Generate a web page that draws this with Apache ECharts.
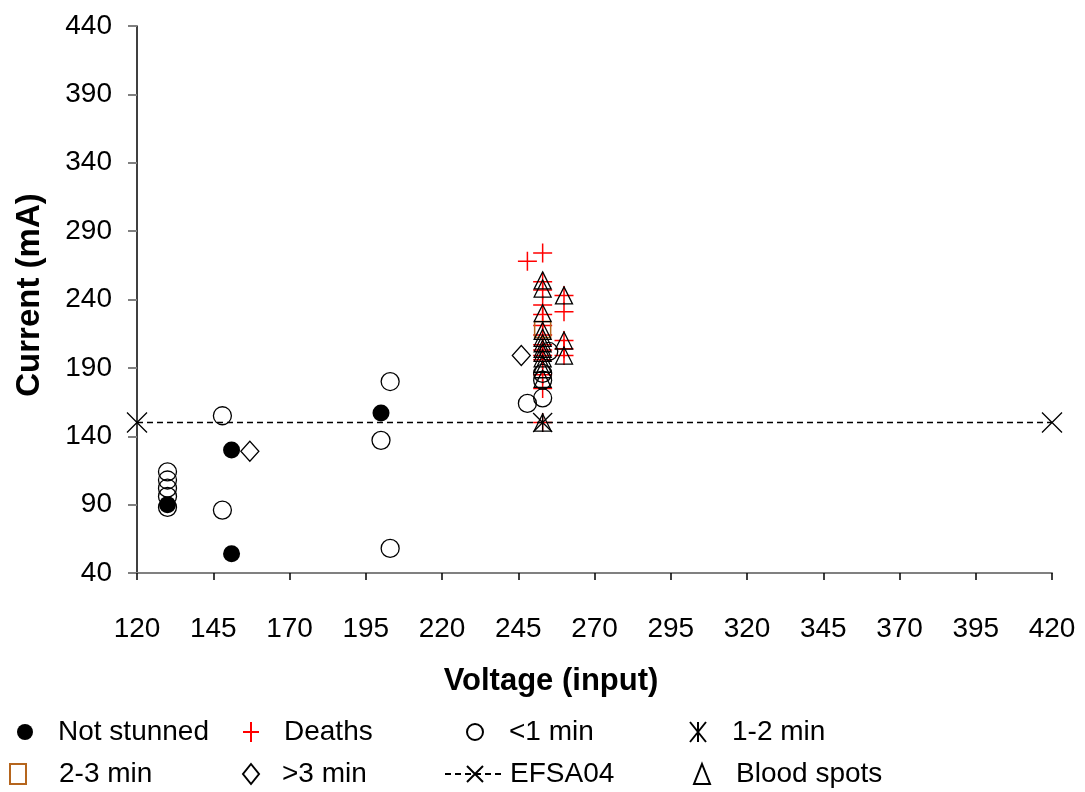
<!DOCTYPE html>
<html>
<head>
<meta charset="utf-8">
<script src="https://cdn.jsdelivr.net/npm/echarts@6/dist/echarts.min.js"></script>
<style>
  html, body { margin: 0; padding: 0; background: #fff; }
  #chart { width: 1085px; height: 792px; }
</style>
</head>
<body>
<div id="chart"></div>
<script>
// values: [voltage, current]
var notStunned = [[130, 90], [151, 130], [151, 54], [200, 157]];
var deaths = [
    [248, 268],
    [253, 274], [253, 253], [253, 247], [253, 236], [253, 229], [253, 221], [253, 214],
    [253, 207], [253, 203], [253, 199], [253, 196], [253, 185], [253, 175], [253, 150],
    [260, 243], [260, 231], [260, 210], [260, 204], [260, 199]
];
var underOne = [
    [130, 114], [130, 108], [130, 102], [130, 96], [130, 88],
    [148, 155], [148, 86], [200, 137], [203, 180], [203, 58],
    [248, 164], [253, 168], [253, 181], [253, 186], [255, 202]
];
var oneToTwo = [[253, 150]];
var twoToThree = [[253, 218]];
var overThree = [[157, 129], [246, 199]];
var efsa04 = [[120, 150], [420, 150]];
var bloodSpots = [
    [253, 254], [253, 248], [253, 230], [253, 217], [253, 212], [253, 208], [253, 204],
    [253, 201], [253, 197], [253, 193], [253, 189], [253, 182], [253, 150],
    [260, 243], [260, 210], [260, 199]
];
var xTicks = {min: 120, max: 420, step: 25};
var yTicks = {min: 40, max: 440, step: 50};

var FONT = "'Liberation Sans', Arial, sans-serif";
var PLUS = 'path://M5,0 L5,10 M0,5 L10,5';
var STAR = 'path://M0,0 L10,10 M10,0 L0,10 M5,0 L5,10';
var CROSS = 'path://M0,0 L10,10 M10,0 L0,10';
var hollow = 'rgba(0,0,0,0)';

function legendAt(name, left, top, pad, w) {
    return {
        data: [name],
        left: left,
        top: top,
        padding: 0,
        itemWidth: w || 16,
        itemHeight: 20,
        symbolKeepAspect: false,
        selectedMode: false,
        textStyle: {fontFamily: FONT, fontSize: 28, color: '#000', padding: [0, 0, 0, pad]}
    };
}

var chart = echarts.init(document.getElementById('chart'));
chart.setOption({
    animation: false,
    grid: {left: 137, right: 33, top: 26, bottom: 219},
    xAxis: {
        type: 'value',
        min: xTicks.min, max: xTicks.max, interval: xTicks.step,
        axisLine: {onZero: false, lineStyle: {color: '#808080', width: 2}},
        axisTick: {length: 7, lineStyle: {color: '#000', width: 1.5}},
        axisLabel: {margin: 42, fontFamily: FONT, fontSize: 28, color: '#000'},
        splitLine: {show: false}
    },
    yAxis: {
        type: 'value',
        min: yTicks.min, max: yTicks.max, interval: yTicks.step,
        axisLine: {show: true, onZero: false, lineStyle: {color: '#000', width: 1.5}},
        axisTick: {show: true, length: 9, lineStyle: {color: '#808080', width: 2}},
        axisLabel: {margin: 25, fontFamily: FONT, fontSize: 28, color: '#000'},
        splitLine: {show: false}
    },
    graphic: [
        {
            type: 'text', x: 30, y: 295, rotation: Math.PI / 2,
            style: {text: 'Current (mA)', font: 'bold 33px ' + FONT, fill: '#000',
                    align: 'center', verticalAlign: 'middle'}
        },
        {
            type: 'text', x: 551, y: 681,
            style: {text: 'Voltage (input)', font: 'bold 31px ' + FONT, fill: '#000',
                    align: 'center', verticalAlign: 'middle'}
        }
    ],
    legend: [
        legendAt('Not stunned', 17, 718, 20),
        legendAt('Deaths', 242, 718, 20),
        legendAt('<1 min', 466, 718, 21),
        legendAt('1-2 min', 689, 718, 21),
        legendAt('2-3 min', 9, 760, 28),
        legendAt('>3 min', 242, 760, 18),
        legendAt('EFSA04', 444, 760, 0, 60),
        legendAt('Blood spots', 693, 760, 21)
    ],
    series: [
        {
            name: 'Not stunned', type: 'scatter', data: notStunned,
            symbol: 'circle', symbolSize: 17,
            itemStyle: {color: '#000', opacity: 1}
        },
        {
            name: 'Deaths', type: 'scatter', data: deaths,
            symbol: PLUS, symbolSize: 19,
            itemStyle: {color: hollow, borderColor: '#ff0000', borderWidth: 1.5, opacity: 1}
        },
        {
            name: '<1 min', type: 'scatter', data: underOne,
            symbol: 'circle', symbolSize: 18,
            itemStyle: {color: hollow, borderColor: '#000', borderWidth: 1.3, opacity: 1}
        },
        {
            name: '1-2 min', type: 'scatter', data: oneToTwo,
            symbol: STAR, symbolSize: 19,
            itemStyle: {color: hollow, borderColor: '#000', borderWidth: 1.3, opacity: 1}
        },
        {
            name: '2-3 min', type: 'scatter', data: twoToThree,
            symbol: 'rect', symbolSize: 16,
            itemStyle: {color: hollow, borderColor: '#b5651d', borderWidth: 1.5, opacity: 1}
        },
        {
            name: '>3 min', type: 'scatter', data: overThree,
            symbol: 'diamond', symbolSize: [18, 20],
            itemStyle: {color: hollow, borderColor: '#000', borderWidth: 1.3, opacity: 1}
        },
        {
            name: 'EFSA04', type: 'line', data: efsa04,
            symbol: CROSS, symbolSize: 20, showAllSymbol: true,
            lineStyle: {color: '#000', width: 1.5, type: [6, 4]},
            itemStyle: {color: hollow, borderColor: '#000', borderWidth: 1.3}
        },
        {
            name: 'Blood spots', type: 'scatter', data: bloodSpots,
            symbol: 'triangle', symbolSize: 17,
            itemStyle: {color: hollow, borderColor: '#000', borderWidth: 1.3, opacity: 1}
        }
    ]
});
</script>
</body>
</html>
